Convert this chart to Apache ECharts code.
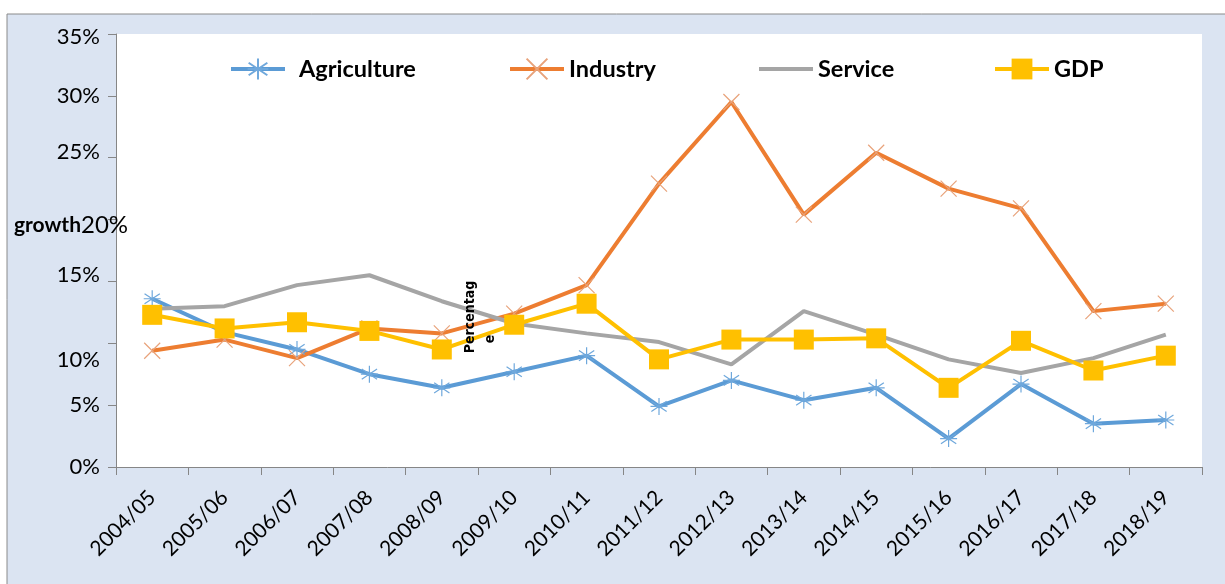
<!DOCTYPE html>
<html>
<head>
<meta charset="utf-8">
<script src="https://cdn.jsdelivr.net/npm/echarts@6/dist/echarts.min.js"></script>
<style>
  html, body { margin: 0; padding: 0; background: #fff; }
  #chart { width: 1225px; height: 584px; }
</style>
</head>
<body>
<div id="chart"></div>
<script>
// Fiscal years on the category axis
const years = ['2004/05', '2005/06', '2006/07', '2007/08', '2008/09', '2009/10', '2010/11',
  '2011/12', '2012/13', '2013/14', '2014/15', '2015/16', '2016/17', '2017/18', '2018/19'];

// Growth rates by sector, in percent
const agriculture = [13.6, 10.9, 9.5, 7.5, 6.4, 7.7, 9.0, 4.9, 7.0, 5.4, 6.4, 2.3, 6.7, 3.5, 3.8];
const industry = [9.4, 10.3, 8.8, 11.2, 10.8, 12.4, 14.7, 22.9, 29.5, 20.4, 25.4, 22.5, 20.9, 12.6, 13.2];
const service = [12.8, 13.0, 14.7, 15.5, 13.4, 11.6, 10.8, 10.1, 8.3, 12.6, 10.7, 8.7, 7.6, 8.8, 10.7];
const gdp = [12.3, 11.2, 11.7, 11.0, 9.5, 11.5, 13.2, 8.7, 10.3, 10.3, 10.4, 6.4, 10.2, 7.8, 9.0];

// Value-axis tick labels
const yTicks = ['0%', '5%', '10%', '15%', '20%', '25%', '30%', '35%'];

const FONT = 'Lato, "Open Sans", sans-serif';
const NARROW = '"Liberation Sans Narrow", "DejaVu Sans Condensed", sans-serif';

// Open-stroke marker shapes
const starPath = 'path://M10 0 L10 20 M1 4 L19 16 M19 4 L1 16 M0 10 L20 10';
const crossPath = 'path://M0 0 L20 20 M20 0 L0 20';

const chart = echarts.init(document.getElementById('chart'));

// per-label vertical nudges, expressed as rich-text padding
const tickRich = {
  t0: { fontSize: 22, fontFamily: FONT, color: '#000' },
  t5: { fontSize: 22, fontFamily: FONT, color: '#000' },
  t10: { fontSize: 22, fontFamily: FONT, color: '#000', padding: [34, 0, 0, 0] },
  t15: { fontSize: 22, fontFamily: FONT, color: '#000', padding: [0, 0, 14, 0] },
  t25: { fontSize: 22, fontFamily: FONT, color: '#000', padding: [0, 0, 12, 0] },
  t30: { fontSize: 22, fontFamily: FONT, color: '#000' },
  t35: { fontSize: 22, fontFamily: FONT, color: '#000', padding: [6, 0, 0, 0] }
};

function legendAt(item, left, gap) {
  return {
    data: [item],
    left: left,
    top: 57,
    padding: 0,
    itemWidth: 54,
    itemHeight: 26,
    lineStyle: { width: 4 },
    textStyle: { fontSize: 23.5, fontWeight: 'bold', fontFamily: FONT, color: '#000', padding: [0, 0, 0, gap] }
  };
}

chart.setOption({
  backgroundColor: '#fff',
  animation: false,
  graphic: [
    {
      type: 'rect', z: -10, silent: true,
      shape: { x: 7, y: 14, width: 1300, height: 700 },
      style: { fill: '#dbe4f2', stroke: '#8a8a8a', lineWidth: 1 }
    },
    {
      type: 'text', z: 100, left: 14, top: 213,
      style: {
        text: '{b|growth}{n|20%}',
        rich: {
          b: { fontSize: 21, fontWeight: 'bold', fontFamily: FONT, fill: '#000' },
          n: { fontSize: 24, fontFamily: FONT, fill: '#000' }
        }
      }
    },
    {
      type: 'text', z: 100, x: 470, y: 317, rotation: Math.PI / 2,
      style: {
        text: 'Percentag', fontSize: 14, fontWeight: 'bold', fontFamily: NARROW,
        fill: '#000', align: 'center', verticalAlign: 'middle'
      }
    },
    {
      type: 'text', z: 100, x: 490, y: 339, rotation: Math.PI / 2,
      style: {
        text: 'e', fontSize: 14, fontWeight: 'bold', fontFamily: NARROW,
        fill: '#000', align: 'center', verticalAlign: 'middle'
      }
    }
  ],
  legend: [
    legendAt('Agriculture', 229, 9),
    legendAt('Industry', 508, 0),
    legendAt({ name: 'Service', itemStyle: { opacity: 0 } }, 757, 0),
    legendAt('GDP', 993, 0)
  ],
  grid: {
    left: 116, right: 23, top: 34, bottom: 117,
    show: true, backgroundColor: '#fff', borderWidth: 0
  },
  xAxis: {
    type: 'category',
    data: years,
    boundaryGap: true,
    axisLine: { lineStyle: { color: '#868686', width: 1 } },
    axisTick: { show: true, length: 8, alignWithLabel: false, lineStyle: { color: '#868686' } },
    axisLabel: { rotate: 45, margin: 27, fontSize: 21, fontFamily: FONT, color: '#000', interval: 0 }
  },
  yAxis: {
    type: 'value',
    min: 0, max: 35, interval: 5,
    splitLine: { show: false },
    axisLine: { show: true, lineStyle: { color: '#868686', width: 1 } },
    axisTick: { show: true, length: 8, lineStyle: { color: '#868686' } },
    axisLabel: {
      margin: 16,
      formatter: function (v) {
        const i = Math.round(v / 5);
        if (i === 4) return '';
        return '{t' + (i * 5) + '|' + yTicks[i] + '}';
      },
      rich: tickRich
    }
  },
  series: [
    {
      name: 'Agriculture', type: 'line', data: agriculture,
      symbol: starPath, symbolSize: 17, showAllSymbol: true,
      lineStyle: { color: '#5b9bd5', width: 4 },
      itemStyle: { color: '#5b9bd5', borderColor: '#6fa8dc', borderWidth: 1.2 }
    },
    {
      name: 'Industry', type: 'line', data: industry,
      symbol: crossPath, symbolSize: 16, showAllSymbol: true,
      lineStyle: { color: '#ed7d31', width: 4 },
      itemStyle: { color: '#ed7d31', borderColor: '#e8a27a', borderWidth: 1.2 }
    },
    {
      name: 'Service', type: 'line', data: service,
      symbol: 'none',
      lineStyle: { color: '#a5a5a5', width: 4 },
      itemStyle: { color: '#a5a5a5' }
    },
    {
      name: 'GDP', type: 'line', data: gdp,
      symbol: 'rect', symbolSize: 20, showAllSymbol: true,
      lineStyle: { color: '#ffc000', width: 4 },
      itemStyle: { color: '#ffc000' }
    }
  ]
});
</script>
</body>
</html>
